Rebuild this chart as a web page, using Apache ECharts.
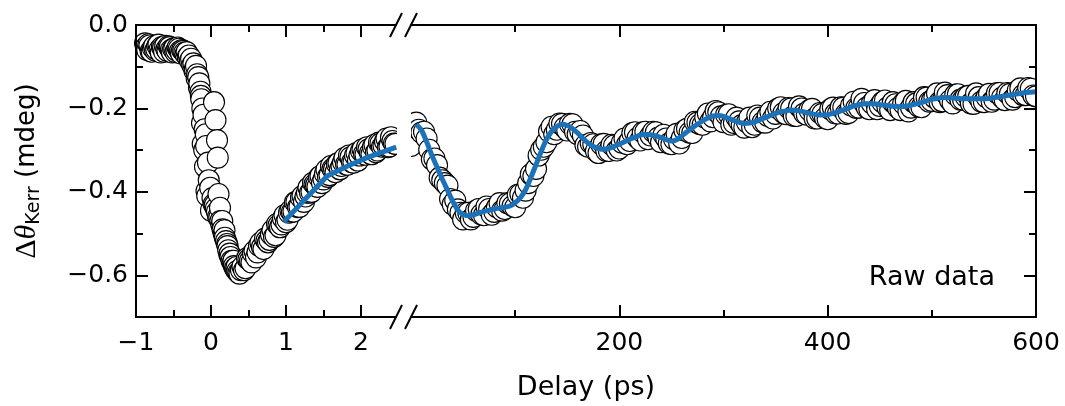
<!DOCTYPE html>
<html>
<head>
<meta charset="utf-8">
<script src="https://cdn.jsdelivr.net/npm/echarts@6/dist/echarts.min.js"></script>
<style>
  html, body { margin: 0; padding: 0; background: #fff; }
  #chart { width: 1065px; height: 406px; }
</style>
</head>
<body>
<div id="chart"></div>
<script>
// ---- Early-delay window (ps): raw Kerr rotation (mdeg), scan A ----
const earlyDelay = [
  -0.88,-0.85,-0.82,-0.79,-0.76,-0.73,-0.70,-0.67,-0.64,-0.61,-0.58,-0.55,-0.52,-0.49,-0.46,-0.43,-0.40,-0.37,-0.34,-0.31,-0.28,-0.25,-0.22,
  -0.19,-0.16,-0.13,-0.10,-0.07,-0.04,-0.01,0.02,0.05,0.08,0.11,0.14,0.17,0.20,0.23,0.26,0.29,0.32,0.35,0.38,
  -0.20,-0.17,-0.14,-0.12,-0.11,-0.09,-0.08,-0.06,-0.05,-0.03,0.00,0.04,0.06,0.08,0.09,0.10,0.12,0.15,0.18,0.22,0.25,0.30,0.34,0.40,
  0.42,0.46,0.50,0.54,0.58,0.62,0.66,0.70,0.74,0.78,0.82,0.86,0.90,0.94,0.98,1.02,1.06,1.10,1.14,1.18,1.22,1.26,
  1.30,1.34,1.38,1.42,1.46,1.50,1.54,1.58,1.62,1.66,1.70,1.74,1.78,1.82,1.86,1.90,1.94,1.98,2.02,2.06,2.10,2.14,
  2.18,2.22,2.26,2.30,2.34,2.38,2.42,2.46
];
const earlySignal = [
  -0.044,-0.060,-0.049,-0.064,-0.051,-0.058,-0.047,-0.066,-0.055,-0.050,-0.062,-0.053,-0.066,-0.056,-0.061,-0.057,-0.068,-0.062,-0.070,-0.076,-0.086,-0.096,-0.110,
  -0.128,-0.150,-0.178,-0.215,-0.262,-0.330,-0.390,-0.415,-0.432,-0.448,-0.462,-0.480,-0.500,-0.518,-0.540,-0.556,-0.570,-0.583,-0.590,-0.596,
  -0.098,-0.125,-0.160,-0.235,-0.285,-0.300,-0.340,-0.398,-0.410,-0.372,-0.445,-0.185,-0.228,-0.276,-0.318,-0.405,-0.438,-0.470,-0.492,-0.530,-0.548,-0.565,-0.580,-0.588,
  -0.579,-0.583,-0.562,-0.569,-0.542,-0.545,-0.522,-0.537,-0.517,-0.515,-0.492,-0.504,-0.480,-0.478,-0.456,-0.467,-0.445,-0.447,-0.424,-0.436,-0.410,-0.411,
  -0.390,-0.400,-0.382,-0.388,-0.362,-0.370,-0.347,-0.360,-0.345,-0.353,-0.331,-0.338,-0.319,-0.335,-0.317,-0.330,-0.307,-0.313,-0.298,-0.311,-0.298,-0.310,
  -0.287,-0.301,-0.284,-0.289,-0.272,-0.291,-0.278,-0.285
];
// scan B, interleaved delays
const earlyDelayB = [
  -0.865,-0.835,-0.805,-0.775,-0.745,-0.715,-0.685,-0.655,-0.625,-0.595,-0.565,-0.535,-0.505,-0.475,-0.445,-0.415,-0.385,-0.355,-0.325,-0.295,-0.265,-0.235,
  -0.215,-0.185,-0.155,-0.135,-0.115,-0.085,-0.065,
  0.035,0.065,0.095,0.125,0.155,0.185,0.215,0.245,0.275,0.305,0.335,0.365,
  0.44,0.48,0.52,0.56,0.60,0.64,0.68,0.72,0.76,0.80,0.84,0.88,0.92,0.96,1.00,1.04,1.08,1.12,1.16,1.20,1.24,1.28,1.32,1.36,1.40,
  1.44,1.48,1.52,1.56,1.60,1.64,1.68,1.72,1.76,1.80,1.84,1.88,1.92,1.96,2.00,2.04,2.08,2.12,2.16,2.20,2.24,2.28,2.32,2.36,2.40,2.44
];
const earlySignalB = [
  -0.052,-0.046,-0.063,-0.055,-0.061,-0.050,-0.059,-0.053,-0.064,-0.058,-0.051,-0.060,-0.057,-0.065,-0.054,-0.063,-0.060,-0.066,-0.065,-0.073,-0.081,-0.092,
  -0.105,-0.118,-0.140,-0.170,-0.200,-0.250,-0.290,
  -0.430,-0.440,-0.460,-0.470,-0.490,-0.510,-0.525,-0.550,-0.565,-0.578,-0.588,-0.594,
  -0.588,-0.559,-0.565,-0.547,-0.557,-0.529,-0.532,-0.512,-0.521,-0.502,-0.508,-0.477,-0.485,-0.464,-0.473,-0.450,-0.448,-0.425,-0.437,-0.414,-0.424,-0.402,-0.402,-0.378,-0.384,
  -0.365,-0.379,-0.357,-0.364,-0.338,-0.346,-0.333,-0.346,-0.329,-0.334,-0.313,-0.329,-0.313,-0.325,-0.302,-0.309,-0.293,-0.307,-0.292,-0.305,-0.282,-0.292,-0.279,-0.293,-0.269,-0.284
];
// fitted recovery curve, early window
const earlyFitDelay  = [0.97, 1.28, 1.55, 1.80, 2.08, 2.47];
const earlyFitSignal = [-0.472, -0.413, -0.362, -0.340, -0.318, -0.293];

// ---- Long-delay window (ps): scan A ----
const lateDelay = [
  0,5,10,15,20,25,30,35,40,45,50,55,60,65,70,75,80,85,90,95,100,
  105,110,115,120,125,130,135,140,145,150,155,160,165,170,175,180,185,190,195,200,
  205,210,215,220,225,230,235,240,245,250,255,260,265,270,275,280,285,290,295,300,
  305,310,315,320,325,330,335,340,345,350,355,360,365,370,375,380,385,390,395,400,
  405,410,415,420,425,430,435,440,445,450,455,460,465,470,475,480,485,490,495,500,
  505,510,515,520,525,530,535,540,545,550,555,560,565,570,575,580,585,590,595,600
];
const lateSignal = [
  -0.290,
  -0.234,-0.258,-0.272,-0.322,-0.336,-0.372,-0.385,-0.430,-0.442,-0.466,
  -0.450,-0.460,-0.441,-0.456,-0.441,-0.448,-0.427,-0.441,-0.428,-0.437,
  -0.405,-0.397,-0.358,-0.345,-0.299,-0.281,-0.244,-0.251,-0.237,-0.253,
  -0.238,-0.262,-0.265,-0.292,-0.286,-0.307,-0.285,-0.302,-0.289,-0.296,
  -0.272,-0.278,-0.257,-0.277,-0.256,-0.265,-0.257,-0.281,-0.272,-0.286,
  -0.261,-0.271,-0.249,-0.259,-0.234,-0.239,-0.212,-0.221,-0.209,-0.233,
  -0.214,-0.235,-0.231,-0.246,-0.222,-0.239,-0.222,-0.234,-0.208,-0.213,
  -0.197,-0.214,-0.200,-0.218,-0.200,-0.215,-0.201,-0.224,-0.213,-0.226,
  -0.198,-0.212,-0.198,-0.211,-0.184,-0.198,-0.187,-0.202,-0.180,-0.194,
  -0.181,-0.204,-0.190,-0.204,-0.182,-0.198,-0.188,-0.197,-0.174,-0.182,
  -0.164,-0.183,-0.168,-0.188,-0.166,-0.179,-0.170,-0.189,-0.173,-0.185,
  -0.165,-0.179,-0.163,-0.180,-0.165,-0.173,-0.152,-0.168,-0.153,-0.171
];
// scan B, delays 7.5 .. 597.5 ps
const lateDelayB = [
  7.5,12.5,17.5,22.5,27.5,32.5,37.5,42.5,47.5,52.5,57.5,62.5,67.5,72.5,77.5,82.5,87.5,92.5,97.5,102.5,
  107.5,112.5,117.5,122.5,127.5,132.5,137.5,142.5,147.5,152.5,157.5,162.5,167.5,172.5,177.5,182.5,187.5,192.5,197.5,202.5,
  207.5,212.5,217.5,222.5,227.5,232.5,237.5,242.5,247.5,252.5,257.5,262.5,267.5,272.5,277.5,282.5,287.5,292.5,297.5,302.5,
  307.5,312.5,317.5,322.5,327.5,332.5,337.5,342.5,347.5,352.5,357.5,362.5,367.5,372.5,377.5,382.5,387.5,392.5,397.5,402.5,
  407.5,412.5,417.5,422.5,427.5,432.5,437.5,442.5,447.5,452.5,457.5,462.5,467.5,472.5,477.5,482.5,487.5,492.5,497.5,502.5,
  507.5,512.5,517.5,522.5,527.5,532.5,537.5,542.5,547.5,552.5,557.5,562.5,567.5,572.5,577.5,582.5,587.5,592.5,597.5
];
const lateSignalB = [
  -0.251,-0.256,-0.299,-0.320,-0.366,-0.379,-0.417,-0.421,-0.450,-0.450,
  -0.466,-0.445,-0.454,-0.435,-0.455,-0.437,-0.445,-0.427,-0.434,-0.407,
  -0.414,-0.379,-0.362,-0.313,-0.292,-0.255,-0.262,-0.236,-0.246,-0.237,
  -0.256,-0.254,-0.288,-0.283,-0.302,-0.286,-0.302,-0.287,-0.301,-0.282,
  -0.286,-0.259,-0.271,-0.257,-0.274,-0.256,-0.270,-0.263,-0.284,-0.274,
  -0.284,-0.253,-0.258,-0.232,-0.238,-0.222,-0.231,-0.206,-0.219,-0.215,
  -0.239,-0.222,-0.240,-0.233,-0.245,-0.217,-0.233,-0.218,-0.224,-0.200,
  -0.211,-0.199,-0.218,-0.195,-0.212,-0.204,-0.224,-0.211,-0.223,-0.202,
  -0.212,-0.197,-0.213,-0.193,-0.199,-0.177,-0.198,-0.188,-0.202,-0.185,
  -0.198,-0.185,-0.199,-0.188,-0.207,-0.185,-0.196,-0.173,-0.184,-0.174,
  -0.185,-0.162,-0.181,-0.167,-0.179,-0.172,-0.188,-0.164,-0.184,-0.173,
  -0.184,-0.163,-0.174,-0.163,-0.179,-0.157,-0.168,-0.151,-0.169
];
// fitted oscillatory curve, long window (delays 5..600 ps)
const lateFitDelay = lateDelay.slice(1);
const lateFitSignal = [
  -0.238,-0.252,-0.280,-0.312,-0.341,-0.369,-0.396,-0.422,-0.444,-0.454,
  -0.457,-0.455,-0.451,-0.447,-0.444,-0.441,-0.439,-0.437,-0.434,-0.426,
  -0.414,-0.395,-0.366,-0.335,-0.303,-0.275,-0.255,-0.243,-0.238,-0.241,
  -0.248,-0.259,-0.272,-0.283,-0.291,-0.296,-0.298,-0.296,-0.291,-0.286,
  -0.280,-0.274,-0.269,-0.264,-0.262,-0.263,-0.266,-0.270,-0.275,-0.278,
  -0.275,-0.266,-0.256,-0.247,-0.238,-0.230,-0.223,-0.218,-0.217,-0.219,
  -0.224,-0.229,-0.233,-0.236,-0.235,-0.232,-0.227,-0.222,-0.217,-0.212,
  -0.208,-0.206,-0.204,-0.205,-0.207,-0.210,-0.213,-0.215,-0.216,-0.215,
  -0.212,-0.208,-0.204,-0.199,-0.194,-0.191,-0.189,-0.189,-0.189,-0.191,
  -0.192,-0.194,-0.195,-0.196,-0.195,-0.192,-0.189,-0.186,-0.182,-0.178,
  -0.176,-0.174,-0.174,-0.175,-0.176,-0.177,-0.177,-0.177,-0.177,-0.177,
  -0.176,-0.174,-0.172,-0.170,-0.168,-0.166,-0.164,-0.162,-0.161,-0.160
];

// ---- Axis ticks and labels ----
const earlyRange = [-1, 2.4667];
const lateRange = [0, 600];
const signalRange = [-0.7, 0];
const earlyMajorTicks = [-1, 0, 1, 2];
const earlyMinorTicks = [-0.5, 0.5, 1.5];
const earlyTickLabels = [-1, 0, 1, 2];
const lateMajorTicks = [200, 400, 600];
const lateMinorTicks = [100, 300, 500];
const lateTickLabels = [200, 400, 600];
const signalMajorTicks = [0, -0.2, -0.4, -0.6];
const signalMinorTicks = [-0.1, -0.3, -0.5];
const signalTickLabels = [0, -0.2, -0.4, -0.6];

const FONT = 'DejaVu Sans';
const INK = '#000';
const FIT_BLUE = '#1b72b9';

const minus = s => s.replace('-', '\u2212');

// combine two scans into one time-ordered list of [delay, signal] pairs
function mergeScans(dA, sA, dB, sB) {
  const pts = dA.map((t, i) => [t, sA[i]]).concat(dB.map((t, i) => [t, sB[i]]));
  return pts.sort((a, b) => a[0] - b[0]);
}

function tickAxis(extra) {
  return Object.assign({
    type: 'value',
    z: 10,
    splitLine: { show: false },
    axisLabel: { show: false },
  }, extra);
}

function xAxes(gridIndex, range, major, minor, labels) {
  const line = { show: true, onZero: false, lineStyle: { color: INK, width: 2 } };
  const noLine = { show: false, onZero: false };
  const majTick = { show: true, inside: true, length: 12, customValues: major, lineStyle: { color: INK, width: 2 } };
  const minTick = { show: true, inside: true, length: 7, customValues: minor, lineStyle: { color: INK, width: 2 } };
  return [
    tickAxis({ gridIndex, position: 'bottom', min: range[0], max: range[1], axisLine: line, axisTick: majTick,
      axisLabel: { show: true, customValues: labels, margin: 14, fontFamily: FONT, fontSize: 25, color: INK,
        formatter: v => minus(String(v)) } }),
    tickAxis({ gridIndex, position: 'bottom', min: range[0], max: range[1], axisLine: noLine, axisTick: minTick }),
    tickAxis({ gridIndex, position: 'top', min: range[0], max: range[1], axisLine: line, axisTick: majTick }),
    tickAxis({ gridIndex, position: 'top', min: range[0], max: range[1], axisLine: noLine, axisTick: minTick }),
  ];
}

const markerStyle = { color: '#fff', borderColor: INK, borderWidth: 1.1, opacity: 1 };

const chart = echarts.init(document.getElementById('chart'), null, { renderer: 'canvas' });

const option = {
  backgroundColor: '#fff',
  animation: false,
  grid: [
    { left: 136, top: 25, width: 260, height: 292 },
    { left: 411, top: 25, width: 625, height: 292 },
  ],
  xAxis: [
    ...xAxes(0, earlyRange, earlyMajorTicks, earlyMinorTicks, earlyTickLabels),
    ...xAxes(1, lateRange, lateMajorTicks, lateMinorTicks, lateTickLabels),
  ],
  yAxis: [
    tickAxis({ gridIndex: 0, position: 'left', min: signalRange[0], max: signalRange[1],
      axisLine: { show: true, onZero: false, lineStyle: { color: INK, width: 2 } },
      axisTick: { show: true, inside: true, length: 12, customValues: signalMajorTicks, lineStyle: { color: INK, width: 2 } },
      axisLabel: { show: true, customValues: signalTickLabels, margin: 8, fontFamily: FONT, fontSize: 25, color: INK,
        formatter: v => minus(v.toFixed(1)) },
      name: '{d|\u0394}{t|\u03b8}{k|Kerr}{n| (mdeg)}',
      nameLocation: 'middle',
      nameGap: 92,
      nameRotate: 90,
      nameTextStyle: {
        color: INK, fontFamily: FONT, fontSize: 26,
        rich: {
          d: { fontFamily: 'Liberation Serif', fontSize: 30, lineHeight: 34, color: INK },
          t: { fontFamily: 'Liberation Serif', fontStyle: 'italic', fontSize: 30, lineHeight: 34, color: INK },
          k: { fontFamily: FONT, fontSize: 19, lineHeight: 19, verticalAlign: 'bottom', color: INK },
          n: { fontFamily: FONT, fontSize: 26, lineHeight: 34, color: INK },
        },
      },
    }),
    tickAxis({ gridIndex: 0, position: 'left', min: signalRange[0], max: signalRange[1],
      axisLine: { show: false, onZero: false },
      axisTick: { show: true, inside: true, length: 7, customValues: signalMinorTicks, lineStyle: { color: INK, width: 2 } } }),
    tickAxis({ gridIndex: 1, position: 'right', min: signalRange[0], max: signalRange[1],
      axisLine: { show: true, onZero: false, lineStyle: { color: INK, width: 2 } },
      axisTick: { show: true, inside: true, length: 12, customValues: signalMajorTicks, lineStyle: { color: INK, width: 2 } } }),
    tickAxis({ gridIndex: 1, position: 'right', min: signalRange[0], max: signalRange[1],
      axisLine: { show: false, onZero: false },
      axisTick: { show: true, inside: true, length: 7, customValues: signalMinorTicks, lineStyle: { color: INK, width: 2 } } }),
  ],
  title: [
    { text: 'Delay (ps)', left: 586, top: 374, textAlign: 'center', padding: 0,
      textStyle: { fontFamily: FONT, fontSize: 27, fontWeight: 'normal', color: INK } },
    { text: 'Raw data', left: 995, top: 264, textAlign: 'right', padding: 0,
      textStyle: { fontFamily: FONT, fontSize: 27, fontWeight: 'normal', color: INK } },
  ],
  series: [
    {
      type: 'scatter', xAxisIndex: 0, yAxisIndex: 0, silent: true,
      data: mergeScans(earlyDelay, earlySignal, earlyDelayB, earlySignalB),
      symbol: 'circle', symbolSize: 21, itemStyle: markerStyle, z: 2,
    },
    {
      type: 'line', xAxisIndex: 0, yAxisIndex: 0, silent: true,
      data: earlyFitDelay.map((t, i) => [t, earlyFitSignal[i]]),
      showSymbol: false, lineStyle: { color: FIT_BLUE, width: 5 }, z: 3,
    },
    {
      type: 'scatter', xAxisIndex: 4, yAxisIndex: 2, silent: true,
      data: mergeScans(lateDelay, lateSignal, lateDelayB, lateSignalB),
      symbol: 'circle', symbolSize: 21, itemStyle: markerStyle, z: 2,
    },
    {
      type: 'line', xAxisIndex: 4, yAxisIndex: 2, silent: true,
      data: lateFitDelay.map((t, i) => [t, lateFitSignal[i]]),
      showSymbol: false, smooth: 0.3, lineStyle: { color: FIT_BLUE, width: 5 }, z: 3,
    },
  ],
};

chart.setOption(option);

// Broken-axis decoration: white masks trim markers at the panel edges,
// and double slashes mark the break on the top and bottom axis lines.
const xEarlyEnd = chart.convertToPixel({ xAxisIndex: 0 }, earlyRange[1]);
const xLateStart = chart.convertToPixel({ xAxisIndex: 4 }, lateRange[0]);
const xLateEnd = chart.convertToPixel({ xAxisIndex: 4 }, lateRange[1]);
const yTop = chart.convertToPixel({ yAxisIndex: 0 }, signalRange[1]);
const yBottom = chart.convertToPixel({ yAxisIndex: 0 }, signalRange[0]);

const slash = (cx, cy) => ({
  type: 'line', z: 20, silent: true,
  shape: { x1: cx - 6, y1: cy + 12, x2: cx + 6, y2: cy - 12 },
  style: { stroke: INK, lineWidth: 2 },
});

chart.setOption({
  graphic: [
    { type: 'rect', z: 5, silent: true,
      shape: { x: xEarlyEnd + 1, y: yTop + 1, width: xLateStart - xEarlyEnd - 1, height: yBottom - yTop - 2 },
      style: { fill: '#fff' } },
    { type: 'rect', z: 5, silent: true,
      shape: { x: xLateEnd + 1, y: 0, width: 40, height: yBottom + 2 },
      style: { fill: '#fff' } },
    slash(xEarlyEnd, yTop), slash(xLateStart, yTop),
    slash(xEarlyEnd, yBottom), slash(xLateStart, yBottom),
  ],
});
</script>
</body>
</html>
